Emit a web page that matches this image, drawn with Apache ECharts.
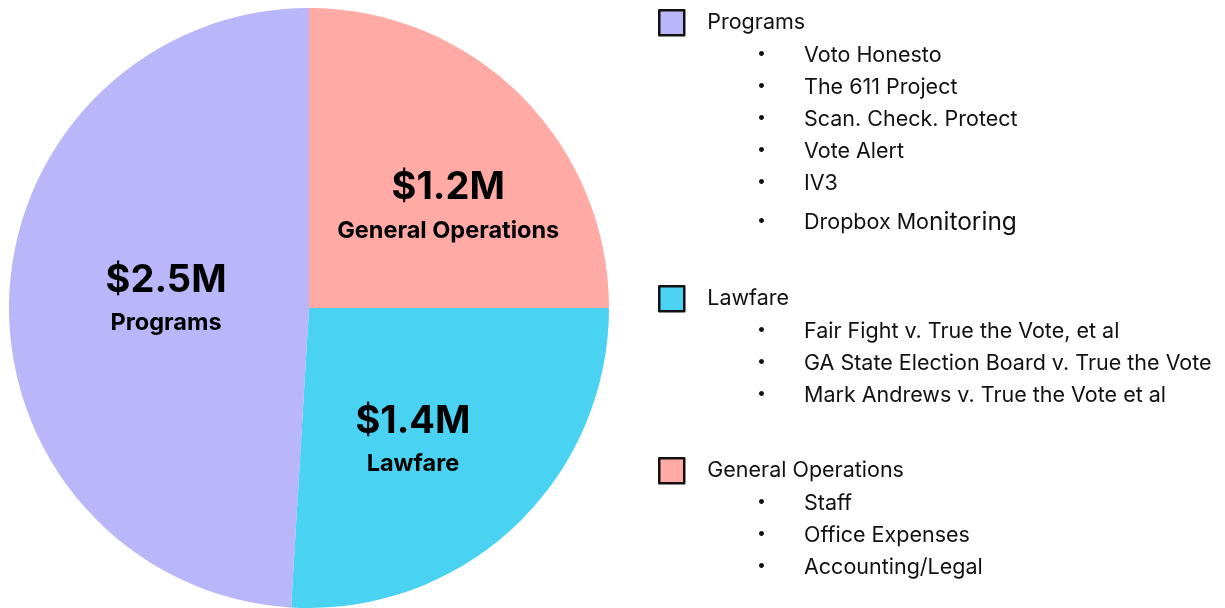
<!DOCTYPE html>
<html lang="en" style="height: 100%">
<head>
    <meta charset="UTF-8">
    <title>Spending breakdown</title>
    <script src="https://cdn.jsdelivr.net/npm/echarts@6/dist/echarts.min.js"></script>
</head>
<body style="height: 100%; margin: 0; background: #fff">
<div id="main" style="width: 1225px; height: 608px"></div>
<script>
    // data
    var categories = ['General Operations', 'Lawfare', 'Programs'];
    var sliceShares = [25.0, 25.95, 49.05];          // share of the circle as drawn
    var amountLabels = ['$1.2M', '$1.4M', '$2.5M'];
    var colors = ['#FFAAA5', '#4AD2F3', '#B9B7F9'];

    var programItems = ['Voto Honesto', 'The 611 Project', 'Scan. Check. Protect', 'Vote Alert', 'IV3', 'Dropbox Monitoring'];
    var lawfareItems = ['Fair Fight v. True the Vote, et al', 'GA State Election Board v. True the Vote', 'Mark Andrews v. True the Vote et al'];
    var opsItems = ['Staff', 'Office Expenses', 'Accounting/Legal'];

    var FONT = 'Inter, "Noto Sans", sans-serif';

    // label nudges from the default inside position
    var labelShift = [[31, 7], [-1, 21], [10, -4]];

    var pieData = categories.map(function (c, i) {
        return {name: c, value: sliceShares[i], itemStyle: {color: colors[i]}};
    });

    // bullet lists on the right
    var graphics = [];
    function addList(items, y0) {
        items.forEach(function (t, i) {
            var y = y0 + i * 32;
            var style = {text: t, fill: '#111', font: '21.5px ' + FONT, textVerticalAlign: 'middle'};
            if (t === 'Dropbox Monitoring') {
                y += 7;
                style = {
                    text: '{a|Dropbox Mo}{b|nitoring}', textVerticalAlign: 'middle', fill: '#111',
                    rich: {
                        a: {fontSize: 21.5, fontFamily: FONT, fill: '#111'},
                        b: {fontSize: 24.5, fontFamily: FONT, fill: '#111'}
                    }
                };
            }
            graphics.push({type: 'text', left: 757, top: y - 11, style: {text: '•', fill: '#111', font: '16px ' + FONT}});
            graphics.push({type: 'text', x: 804, y: y, style: style});
        });
    }
    addList(programItems, 56);
    addList(lawfareItems, 332);
    addList(opsItems, 504);

    var legendTops = [457, 285, 9];
    var legends = categories.map(function (c, i) {
        return {
            data: [c],
            left: 658,
            top: legendTops[i],
            padding: 0,
            orient: 'vertical',
            selectedMode: false,
            icon: 'rect',
            itemWidth: 25,
            itemHeight: 25,
            itemStyle: {borderColor: '#111', borderWidth: 2.5},
            textStyle: {fontSize: 21.5, fontFamily: FONT, color: '#111', padding: [0, 0, 0, 18]}
        };
    });

    var myoption = {
        animation: false,
        legend: legends,
        graphic: graphics,
        series: [
            {
                type: 'pie',
                center: [309, 308],
                radius: [0, 300],
                startAngle: 90,
                clockwise: true,
                avoidLabelOverlap: false,
                itemStyle: {borderWidth: 0},
                emphasis: {disabled: true},
                label: {
                    show: true,
                    position: 'inside',
                    formatter: function (p) {
                        return '{amt|' + amountLabels[p.dataIndex] + '}\n{nm|' + p.name + '}';
                    },
                    rich: {
                        amt: {fontSize: 38, fontWeight: 'bold', fontFamily: FONT, color: '#000', lineHeight: 48},
                        nm: {fontSize: 23.5, fontWeight: 'bold', fontFamily: FONT, color: '#000', lineHeight: 38}
                    }
                },
                labelLayout: function (params) {
                    var s = labelShift[params.dataIndex];
                    return {dx: s[0], dy: s[1]};
                },
                data: pieData
            }
        ]
    };
    var myChart = echarts.init(document.getElementById('main'));
    myChart.setOption(myoption);
</script>
</body>
</html>
